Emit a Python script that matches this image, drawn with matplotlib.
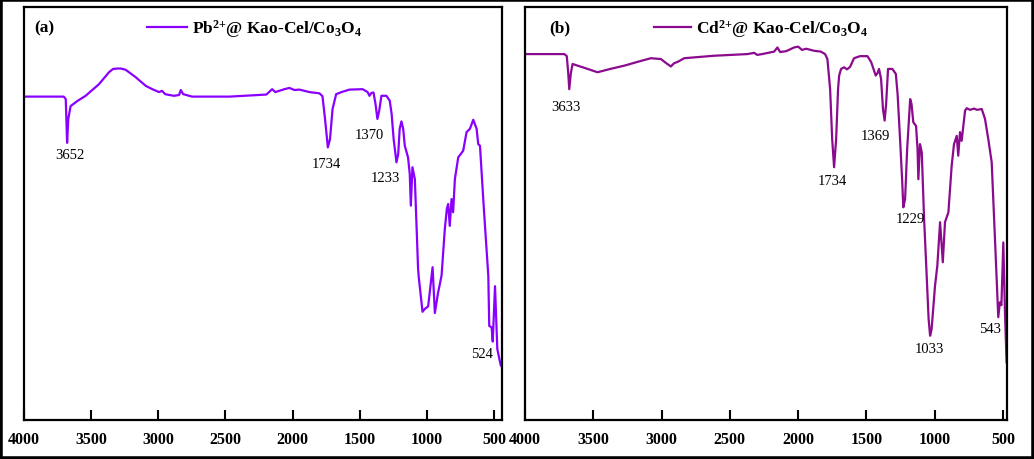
import matplotlib
matplotlib.use("Agg")
import matplotlib.pyplot as plt
from matplotlib.patches import Rectangle

plt.rcParams['font.family'] = ['Liberation Serif', 'DejaVu Serif']
plt.rcParams['mathtext.fontset'] = 'custom'
plt.rcParams['mathtext.rm'] = 'Liberation Serif:bold'
plt.rcParams['mathtext.it'] = 'Liberation Serif:bold'
plt.rcParams['mathtext.bf'] = 'Liberation Serif:bold'

# ---- Panel (a): Pb2+@Kao-Cel/Co3O4 ----
wn_a = [4000, 3704, 3689, 3679, 3670, 3653, 3600, 3541, 3442, 3367, 3337, 3305, 3278,
        3243, 3168, 3093, 3044,
        2994, 2972, 2949, 2919, 2882, 2845, 2832, 2815, 2748, 2471, 2195, 2152, 2128,
        2061, 2023, 1986, 1949, 1874, 1800, 1777, 1758, 1737, 1721, 1702, 1675, 1635,
        1576, 1478, 1441, 1427, 1412, 1397, 1382, 1368, 1355, 1338, 1301, 1276, 1262,
        1247, 1226, 1213, 1202, 1189, 1176, 1164, 1140, 1127, 1119, 1107, 1089, 1065,
        1060, 1032, 1015, 990, 957, 940, 918, 890, 866, 851, 841, 829, 816, 804, 791,
        766, 729, 704, 679, 654, 629, 617, 604, 575, 542, 535, 517, 509, 492, 475,
        450, 440]
t_a = [78.3, 78.3, 77.7, 67.1, 72.9, 76.0, 77.3, 78.5, 81.3, 84.2, 85.0, 85.1, 85.1,
       84.8, 83.0, 80.9, 80.1,
       79.4, 79.7, 78.9, 78.7, 78.5, 78.7, 79.9, 78.9, 78.3, 78.3, 78.8, 80.1, 79.4,
       80.1, 80.4, 79.9, 80.0, 79.4, 79.1, 78.4, 72.9, 66.0, 68.0, 75.3, 78.9, 79.4,
       80.0, 80.1, 79.4, 78.5, 79.2, 79.3, 76.5, 72.9, 74.8, 78.5, 78.5, 77.3, 74.1,
       68.0, 62.4, 64.4, 70.5, 72.3, 70.5, 66.4, 63.6, 59.6, 51.9, 61.2, 58.3, 36.6,
       34.6, 26.2, 26.9, 27.5, 37.0, 25.9, 30.5, 35.0, 46.2, 51.1, 52.3, 47.0, 53.5,
       50.3, 58.3, 63.6, 65.2, 69.7, 70.5, 72.7, 70.5, 66.8, 66.4, 51.1, 34.9, 22.8,
       22.4, 19.0, 32.4, 17.2, 13.3, 12.8]
peaks_a = ["3652", "1734", "1370", "1233", "524"]
peak_x_a = [3661, 1749, 1431, 1309, 592]
peak_y_a = [64.2, 62.1, 69.1, 58.6, 16.2]

# ---- Panel (b): Cd2+@Kao-Cel/Co3O4 ----
wn_b = [4000, 3712, 3694, 3683, 3676, 3665, 3652, 3615, 3559, 3469, 3376, 3273, 3156,
        3078, 3005, 2966, 2932, 2908, 2883, 2834, 2615, 2371, 2322, 2300, 2264, 2176,
        2152, 2132, 2088, 2030, 2000, 1971, 1942, 1883, 1834, 1803, 1786, 1766, 1751,
        1737, 1722, 1708, 1700, 1686, 1664, 1642, 1620, 1591, 1547, 1493, 1466, 1432,
        1419, 1408, 1393, 1379, 1367, 1356, 1342, 1310, 1285, 1272, 1254, 1239, 1230,
        1217, 1202, 1180, 1170, 1157, 1137, 1126, 1120, 1108, 1095, 1078, 1059, 1045,
        1034, 1023, 998, 981, 961, 941, 925, 900, 876, 859, 839, 828, 815, 803, 778,
        766, 742, 712, 691, 656, 632, 608, 583, 559, 535, 523, 512, 498, 486, 474]
t_b = [88.6, 88.6, 88.1, 83.8, 80.1, 83.8, 86.2, 85.8, 85.2, 84.2, 85.0, 85.8, 86.9,
       87.6, 87.4, 86.4, 85.6, 86.4, 86.7, 87.6, 88.2, 88.6, 88.9, 88.4, 88.6, 89.2,
       90.2, 89.1, 89.3, 90.2, 90.4, 89.6, 89.9, 89.4, 89.2, 88.6, 87.4, 80.1, 68.0,
       61.2, 68.0, 80.1, 83.4, 85.0, 85.4, 84.9, 85.5, 87.6, 88.1, 88.1, 86.7, 83.4,
       84.0, 85.0, 82.6, 75.3, 72.5, 76.5, 85.0, 85.0, 83.8, 78.9, 68.0, 58.3, 51.5,
       53.5, 65.6, 77.7, 76.5, 72.1, 71.2, 65.6, 58.3, 66.8, 64.8, 48.7, 34.9, 24.5,
       20.4, 22.0, 32.5, 37.4, 47.9, 38.2, 47.9, 50.3, 61.6, 66.8, 68.8, 64.0, 69.7,
       67.6, 74.9, 75.5, 75.1, 75.4, 75.1, 75.3, 72.9, 68.0, 62.4, 43.8, 24.9, 28.5,
       27.8, 43.0, 26.1, 14.0]
peaks_b = ["3633", "1734", "1369", "1229", "1033", "543"]
peak_x_b = [3700, 1749, 1432, 1176, 1042, 595]
peak_y_b = [75.9, 57.9, 69.0, 48.7, 17.2, 22.2]

ticks = [4000, 3500, 3000, 2500, 2000, 1500, 1000, 500]

W, H = 1034, 460
fig = plt.figure(figsize=(W / 100, H / 100), dpi=100)
fig.patch.set_facecolor('white')

def make_axes(left_px, right_px, xmin_right):
    ax = fig.add_axes([left_px / W, (H - 421) / H, (right_px - left_px) / W, (421 - 8) / H])
    ax.set_xlim(4000, xmin_right)
    ax.set_ylim(0, 100)
    ax.set_yticks([])
    ax.set_xticks(ticks)
    ax.set_xticklabels([str(t) for t in ticks], fontweight='bold', fontsize=11.5)
    ax.tick_params(axis='x', direction='in', length=7, width=1.5, pad=8)
    for s in ax.spines.values():
        s.set_linewidth(1.6)
    return ax

ax1 = make_axes(24, 502, 440)
ax2 = make_axes(525, 1007, 471)

col_a = '#8A00FF'
col_b = '#8B0A8E'

ax1.plot(wn_a, t_a, color=col_a, lw=1.6,
         label=r'Pb$^{2{+}}$@ Kao-Cel/Co$_{3}$O$_{4}$')
ax2.plot(wn_b, t_b, color=col_b, lw=1.6,
         label=r'Cd$^{2{+}}$@ Kao-Cel/Co$_{3}$O$_{4}$')

for lab, x, y in zip(peaks_a, peak_x_a, peak_y_a):
    ax1.text(x, y, lab, ha='center', va='center', fontsize=10.5)
for lab, x, y in zip(peaks_b, peak_x_b, peak_y_b):
    ax2.text(x, y, lab, ha='center', va='center', fontsize=10.5)

ax1.text(0.022, 0.95, '(a)', transform=ax1.transAxes, fontsize=12.5,
         fontweight='bold', va='center', ha='left')
ax2.text(0.05, 0.95, '(b)', transform=ax2.transAxes, fontsize=12.5,
         fontweight='bold', va='center', ha='left')

leg_kw = dict(frameon=False, prop={'weight': 'bold', 'size': 12.5}, loc='center',
              handletextpad=0.3, borderpad=0, borderaxespad=0)
ax1.legend(bbox_to_anchor=(0.483, 0.949), handlelength=2.3, **leg_kw)
ax2.legend(bbox_to_anchor=(0.49, 0.949), handlelength=2.1, **leg_kw)

fig.patches.append(Rectangle((0, 0), 1, 1, transform=fig.transFigure, fill=False,
                             edgecolor='black', lw=4, zorder=10))

fig.savefig('out.png', dpi=100, facecolor='white')
